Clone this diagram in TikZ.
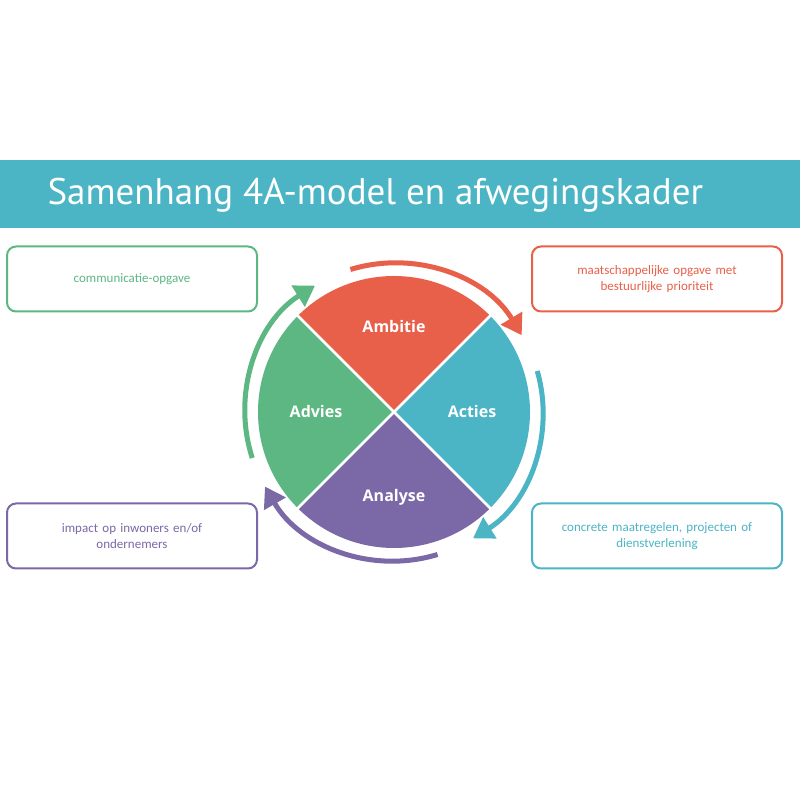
\documentclass[tikz,border=0pt]{standalone}
\usepackage{fontspec}
\setmainfont{Carlito}
\newfontfamily\titlefont{PT Sans}
\newfontfamily\quadfont{Open Sans}
\usetikzlibrary{arrows.meta}
\definecolor{cred}{HTML}{E8604A}
\definecolor{cteal}{HTML}{4BB5C5}
\definecolor{cpurp}{HTML}{7B68A6}
\definecolor{cgreen}{HTML}{5DB783}
\tikzset{
  infobox/.style={draw=#1, line width=2pt, rounded corners=9pt, minimum width=250pt, minimum height=65pt, text=#1, align=center, font=\fontsize{13}{16}\selectfont, text width=240pt},
  quad/.style={text=white, font=\quadfont\bfseries\fontsize{16}{18}\selectfont},
  ringarrow/.style={draw=#1, line width=5pt, -{Triangle[width=24pt,length=20pt]}}
}
\begin{document}
\begin{tikzpicture}[x=1pt,y=1pt]
\useasboundingbox (0,0) rectangle (800,800);
\fill[white] (0,0) rectangle (800,800);
% title bar
\fill[cteal] (0,572) rectangle (800,640);
\node[anchor=west, text=white, font=\titlefont\fontsize{37}{40}\selectfont] (title) at (44,605) {Samenhang 4A-model en afwegingskader};
% boxes
\node[infobox=cgreen] (b1) at (132,521) {communicatie-opgave};
\node[infobox=cred] (b2) at (657,521) {maatschappelijke opgave met\\bestuurlijke prioriteit};
\node[infobox=cpurp] (b3) at (132,264) {impact op inwoners en/of\\ondernemers};
\node[infobox=cteal] (b4) at (657,264) {concrete maatregelen, projecten of\\dienstverlening};
\begin{scope}[shift={(394,388)}]
% quadrants
\fill[cred] (0,0) -- (45:136) arc[start angle=45,end angle=135,radius=136] -- cycle;
\fill[cgreen] (0,0) -- (135:136) arc[start angle=135,end angle=225,radius=136] -- cycle;
\fill[cpurp] (0,0) -- (225:136) arc[start angle=225,end angle=315,radius=136] -- cycle;
\fill[cteal] (0,0) -- (315:136) arc[start angle=315,end angle=405,radius=136] -- cycle;
\draw[white, line width=2.5pt] (45:137) -- (225:137) (135:137) -- (315:137);
\node[quad] (q1) at (0,85) {Ambitie};
\node[quad] (q2) at (-78,0) {Advies};
\node[quad] (q3) at (78,0) {Acties};
\node[quad] (q4) at (0,-85) {Analyse};
% ring arrows
\draw[ringarrow=cteal] (16:149) arc[start angle=16,end angle=-58,radius=149];
\draw[ringarrow=cpurp] (-73:149) arc[start angle=-73,end angle=-150,radius=149];
\draw[ringarrow=cgreen] (-162:149) arc[start angle=-162,end angle=-238,radius=149];
\draw[ringarrow=cred] (107:149) arc[start angle=107,end angle=31,radius=149];
\end{scope}
\end{tikzpicture}
\end{document}
